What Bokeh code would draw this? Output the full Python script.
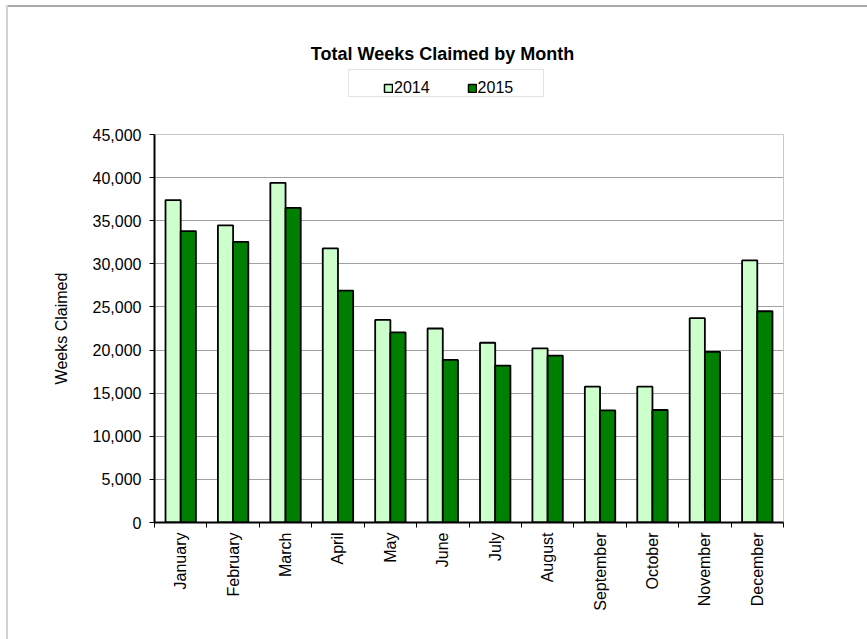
from bokeh.plotting import figure
from bokeh.layouts import column
from bokeh.models import (ColumnDataSource, Range1d, FixedTicker, NumeralTickFormatter,
                          Legend, LegendItem, Label, BoxAnnotation)
from bokeh.transform import dodge
from bokeh.embed import file_html
from bokeh.resources import INLINE

# ---- data ----
months = ["January", "February", "March", "April", "May", "June", "July",
          "August", "September", "October", "November", "December"]
weeks_2014 = [37400, 34450, 39400, 31800, 23500, 22500, 20850, 20200, 15750, 15750, 23700, 30400]
weeks_2015 = [33800, 32550, 36500, 26900, 22050, 18850, 18200, 19350, 13000, 13050, 19800, 24500]
series_names = ["2014", "2015"]
y_ticks = [0, 5000, 10000, 15000, 20000, 25000, 30000, 35000, 40000, 45000]
title_text = "Total Weeks Claimed by Month"
y_title = "Weeks Claimed"

FONT = "Liberation Sans"
C2014 = "#CCFFCC"
C2015 = "#008000"
W = 867
HEAD_H = 126
MAIN_H = 513
BL, BR = 154, 84          # left / right borders (frame spans 154..783)

idx = list(range(1, len(months) + 1))
source = ColumnDataSource(dict(x=idx, month=months, y2014=weeks_2014, y2015=weeks_2015))

# ---------------- header: title + legend (page pixel coordinates) ----------------
head = figure(width=W, height=HEAD_H, x_range=Range1d(BL, W - BR), y_range=Range1d(HEAD_H, 0),
              output_backend="svg", toolbar_location=None,
              min_border_left=BL, min_border_right=BR, min_border_top=0, min_border_bottom=0)
head.axis.visible = False
head.grid.visible = False
head.outline_line_color = None
head.background_fill_color = "white"
head.border_fill_color = "white"

head.add_layout(Label(x=442, y=53, text=title_text,
                      text_font=FONT, text_font_size="18px", text_font_style="bold",
                      text_align="center", text_baseline="alphabetic", text_color="black"))
head.add_layout(BoxAnnotation(left=348, right=543, top=69, bottom=96,
                              fill_color="white", fill_alpha=1.0,
                              line_color="#a0a0a0", line_width=1))

h1 = head.vbar(x="x", top="y2014", width=0.29, source=source, visible=False,
               fill_color=C2014, line_color="black", line_width=1.5)
h2 = head.vbar(x="x", top="y2015", width=0.29, source=source, visible=False,
               fill_color=C2015, line_color="black", line_width=1.5)
legend = Legend(items=[LegendItem(label=series_names[0], renderers=[h1]),
                       LegendItem(label=series_names[1], renderers=[h2])],
                location=(229, 29.5), orientation="horizontal",
                border_line_color=None, background_fill_alpha=0,
                padding=4, margin=0, spacing=37,
                glyph_width=10, glyph_height=10, label_standoff=1, label_width=34,
                label_text_font=FONT, label_text_font_size="16px", label_text_color="black")
head.add_layout(legend, "center")

# ---------------- main chart ----------------
p = figure(width=W, height=MAIN_H,
           x_range=Range1d(0.5, len(months) + 0.5), y_range=Range1d(0, 45000),
           output_backend="svg", toolbar_location=None,
           min_border_left=BL, min_border_right=BR, min_border_top=8, min_border_bottom=117)

r1 = p.vbar(x=dodge("x", -0.145, range=p.x_range), top="y2014", width=0.29, source=source,
            fill_color=C2014, line_color="black", line_width=1.8)
r2 = p.vbar(x=dodge("x", 0.145, range=p.x_range), top="y2015", width=0.29, source=source,
            fill_color=C2015, line_color="black", line_width=1.8)

p.outline_line_color = "#c8c8c8"
p.background_fill_color = "white"
p.border_fill_color = "white"
p.xgrid.grid_line_color = None
p.ygrid.grid_line_color = "#a0a0a0"
p.ygrid.grid_line_width = 1

xa = p.xaxis[0]
xa.ticker = FixedTicker(ticks=idx, minor_ticks=[i + 0.5 for i in range(0, len(months) + 1)])
xa.major_label_overrides = {i: m for i, m in zip(idx, months)}
xa.major_label_orientation = 1.5707963
xa.major_tick_out = 0
xa.major_tick_in = 0
xa.minor_tick_out = 5
xa.minor_tick_in = 0
xa.minor_tick_line_color = "black"
xa.axis_line_color = "black"
xa.axis_line_width = 2
xa.major_label_text_font = FONT
xa.major_label_text_font_size = "16px"
xa.major_label_text_color = "black"
xa.major_label_standoff = 5

ya = p.yaxis[0]
ya.ticker = FixedTicker(ticks=y_ticks)
ya.formatter = NumeralTickFormatter(format="0,0")
ya.major_tick_out = 5
ya.major_tick_in = 0
ya.minor_tick_line_color = None
ya.major_tick_line_color = "black"
ya.axis_line_color = "black"
ya.axis_line_width = 2
ya.major_label_text_font = FONT
ya.major_label_text_font_size = "16px"
ya.major_label_text_color = "black"
ya.major_label_standoff = 8
ya.axis_label = y_title
ya.axis_label_text_font = FONT
ya.axis_label_text_font_size = "16px"
ya.axis_label_text_font_style = "normal"
ya.axis_label_text_color = "black"
ya.axis_label_standoff = 20

layout = column(head, p, spacing=0)
html = file_html(layout, INLINE)
# thin outer chart border: a top and a left line, drawn as plain coloured strips
top_line = ('<div style="position:fixed;left:6px;top:5px;width:861px;height:2px;'
            'background:#a8a8a8;pointer-events:none;"></div>')
left_line = ('<div style="position:fixed;left:6px;top:5px;width:2px;height:634px;'
             'background:#d2d2d2;pointer-events:none;"></div>')
html = html.replace("</body>", top_line + left_line + "</body>")
open("out.html", "w").write(html)
